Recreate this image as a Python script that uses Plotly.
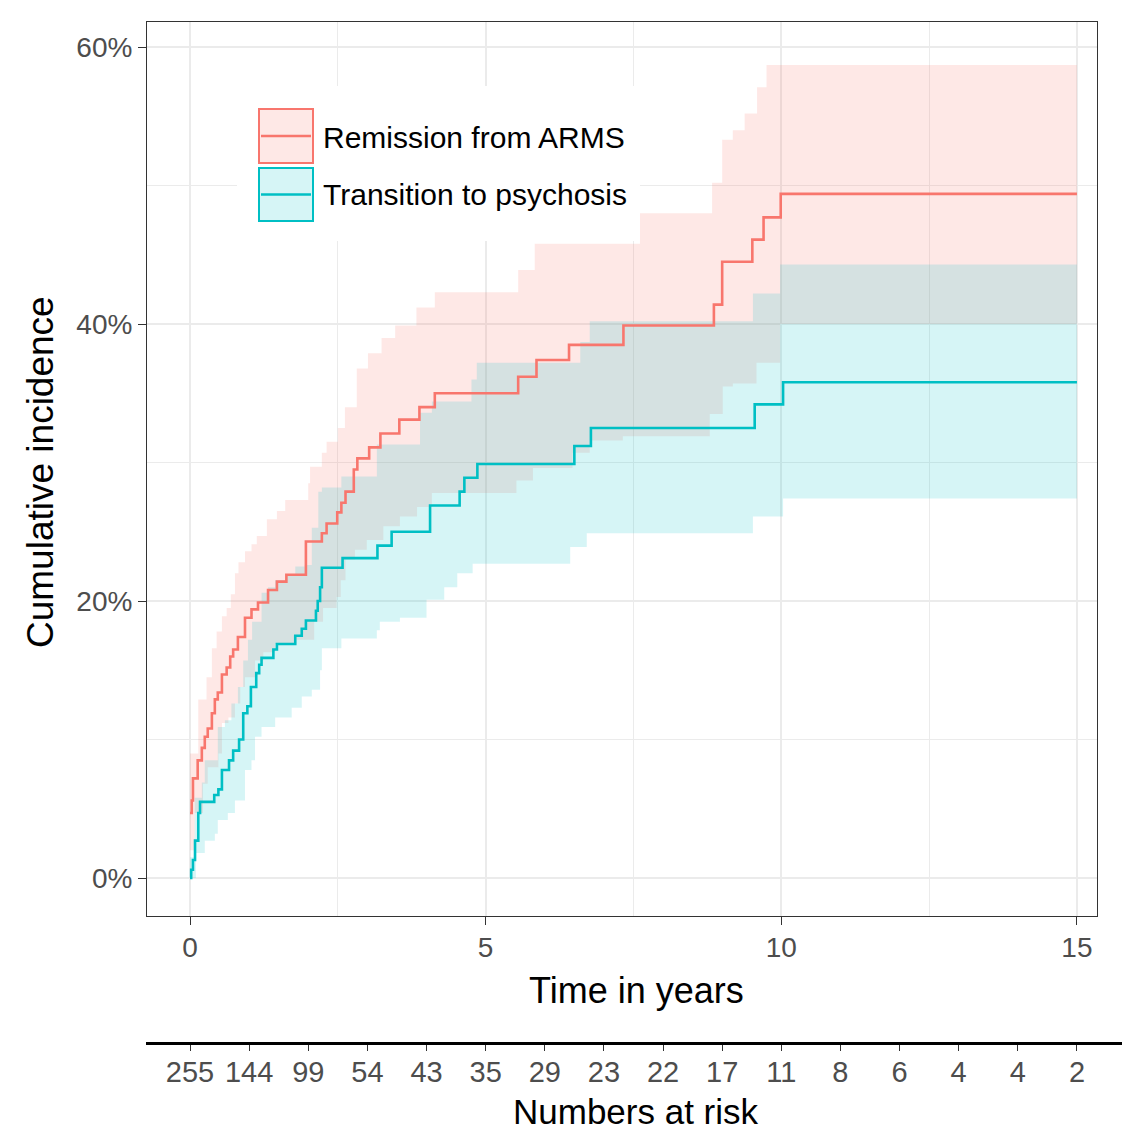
import plotly.graph_objects as go

# ---------------- data ----------------
# Remission from ARMS: cumulative incidence step curve (years, %)
REM_T = [0, 0.03, 0.05, 0.13, 0.20, 0.25, 0.30, 0.37, 0.42, 0.47, 0.54, 0.62, 0.68, 0.73, 0.81,
         0.93, 1.04, 1.15, 1.32, 1.47, 1.63, 1.96, 2.23, 2.31, 2.49, 2.56, 2.63, 2.77, 2.83, 3.03,
         3.22, 3.54, 3.88, 4.14, 5.55, 5.86, 6.41, 7.33, 8.86, 9.00, 9.51, 9.70, 9.99, 15.0]
REM_V = [4.7, 5.6, 7.2, 8.5, 9.4, 10.2, 10.8, 11.9, 12.9, 13.4, 14.7, 15.2, 16.0, 16.5, 17.4,
         18.8, 19.4, 19.9, 20.8, 21.4, 21.9, 24.3, 24.9, 25.6, 26.4, 27.1, 27.9, 29.5, 30.3, 31.1,
         32.1, 33.1, 34.0, 35.0, 36.2, 37.4, 38.5, 39.9, 41.4, 44.5, 46.1, 47.7, 49.4, 49.4]

REM_UP_T = [0, 0.14, 0.28, 0.37, 0.45, 0.54, 0.62, 0.69, 0.76, 0.82, 0.93, 1.04, 1.13, 1.30, 1.47,
            1.61, 2.00, 2.03, 2.23, 2.31, 2.50, 2.62, 2.82, 3.01, 3.24, 3.47, 3.83, 4.14, 5.55, 5.83,
            7.61, 8.83, 9.00, 9.18, 9.38, 9.59, 9.75, 15.0]
REM_UP_V = [9.0, 12.9, 14.5, 16.6, 17.8, 18.9, 19.5, 20.5, 22.0, 22.8, 23.6, 24.1, 24.7, 25.9, 26.5,
            27.3, 28.5, 29.7, 30.7, 31.5, 32.5, 34.0, 36.8, 37.9, 39.0, 39.9, 41.2, 42.3, 43.9, 45.8,
            48.0, 50.2, 53.3, 54.0, 55.2, 57.1, 58.7, 58.7]

REM_LO_T = [0, 0.08, 0.22, 0.30, 0.48, 0.54, 0.65, 0.76, 0.85, 0.93, 1.10, 1.24, 1.44, 1.80, 2.10,
            2.25, 2.48, 2.55, 2.63, 2.79, 2.99, 3.27, 3.55, 3.84, 4.09, 5.52, 5.80, 6.47, 6.76, 7.32,
            8.79, 9.01, 9.18, 9.58, 9.98, 15.0]
REM_LO_V = [2.0, 4.7, 6.8, 8.0, 9.0, 11.2, 11.6, 12.6, 13.8, 14.5, 15.7, 16.3, 16.9, 17.2, 18.5,
            19.5, 20.3, 21.5, 23.0, 23.7, 24.4, 25.4, 26.1, 26.8, 27.8, 28.7, 29.6, 30.7, 31.6, 31.9,
            33.5, 35.5, 35.7, 37.2, 40.0, 40.0]

# Transition to psychosis
TRA_T = [0, 0.02, 0.05, 0.085, 0.14, 0.17, 0.41, 0.48, 0.54, 0.66, 0.73, 0.83, 0.90, 0.97, 1.03,
         1.12, 1.17, 1.21, 1.41, 1.47, 1.78, 1.89, 1.96, 2.13, 2.16, 2.20, 2.23, 2.58, 3.17, 3.41,
         4.06, 4.56, 4.64, 4.86, 6.50, 6.78, 9.55, 10.03, 15.0]
TRA_V = [0, 0.6, 1.3, 2.7, 4.7, 5.5, 6.0, 6.4, 7.8, 8.5, 9.2, 10.0, 11.9, 12.4, 13.8,
         14.8, 15.4, 15.9, 16.5, 16.9, 17.5, 18.0, 18.6, 19.3, 20.0, 21.0, 22.4, 23.1, 24.0, 25.0,
         26.9, 27.9, 28.9, 29.9, 31.2, 32.5, 34.2, 35.8, 35.8]

TRA_UP_T = [0, 0.08, 0.20, 0.25, 0.47, 0.59, 0.70, 0.81, 0.90, 0.98, 1.05, 1.21, 1.32, 1.44, 1.61,
            1.78, 1.94, 2.06, 2.17, 2.23, 2.56, 3.16, 3.89, 4.09, 4.76, 4.85, 6.60, 6.76, 9.52, 9.98,
            15.0]
TRA_UP_V = [1.5, 5.8, 6.9, 8.5, 10.9, 11.4, 12.6, 13.8, 15.7, 17.2, 18.5, 20.6, 21.0, 21.5, 21.9,
            22.5, 22.6, 25.3, 27.9, 28.2, 29.0, 31.3, 33.6, 34.4, 36.0, 37.2, 38.7, 40.2, 42.2, 44.3,
            44.3]

TRA_LO_T = [0, 0.10, 0.25, 0.42, 0.47, 0.64, 0.76, 0.93, 1.04, 1.10, 1.21, 1.44, 1.72, 1.89, 2.06,
            2.20, 2.23, 2.56, 3.16, 3.21, 3.55, 4.00, 4.30, 4.52, 4.78, 6.43, 6.71, 9.52, 10.03, 15.0]
TRA_LO_V = [0, 1.8, 2.7, 3.2, 4.2, 4.7, 5.6, 7.8, 8.5, 10.2, 10.9, 11.6, 12.3, 13.1, 13.6,
            15.0, 16.6, 17.3, 17.9, 18.5, 18.8, 20.1, 21.0, 22.0, 22.7, 23.9, 24.9, 26.1, 27.4, 27.4]

# numbers at risk
RISK_T = list(range(16))
RISK_N = ["255", "144", "99", "54", "43", "35", "29", "23", "22", "17", "11", "8", "6", "4", "4", "2"]

X_TICKS = [0, 5, 10, 15]
Y_TICKS = [0, 0.2, 0.4, 0.6]
Y_TICK_TEXT = ["0%", "20%", "40%", "60%"]

SERIES = ["Remission from ARMS", "Transition to psychosis"]
RED = "#F8766D"
TEAL = "#00BFC4"
RED_FILL = "rgba(248,118,109,0.17)"
TEAL_FILL = "rgba(0,191,196,0.16)"
FONT = "Liberation Sans, Arial, sans-serif"


def steps(t, v):
    xs, ys = [t[0]], [v[0] / 100]
    for i in range(1, len(t)):
        xs += [t[i], t[i]]
        ys += [v[i - 1] / 100, v[i] / 100]
    return xs, ys


def band(tu, vu, tl, vl):
    ux, uy = steps(tu, vu)
    lx, ly = steps(tl, vl)
    return ux + lx[::-1], uy + ly[::-1]


fig = go.Figure()

for (tu, vu, tl, vl, fc) in [(REM_UP_T, REM_UP_V, REM_LO_T, REM_LO_V, RED_FILL),
                             (TRA_UP_T, TRA_UP_V, TRA_LO_T, TRA_LO_V, TEAL_FILL)]:
    bx, by = band(tu, vu, tl, vl)
    fig.add_trace(go.Scatter(x=bx, y=by, fill="toself", fillcolor=fc, mode="lines",
                             line=dict(width=0), hoverinfo="skip", showlegend=False))

fig.add_trace(go.Scatter(x=REM_T, y=[v / 100 for v in REM_V], mode="lines", line_shape="hv",
                         line=dict(color=RED, width=2.6), name=SERIES[0], showlegend=False))
fig.add_trace(go.Scatter(x=TRA_T, y=[v / 100 for v in TRA_V], mode="lines", line_shape="hv",
                         line=dict(color=TEAL, width=2.6), name=SERIES[1], showlegend=False))

# dummy trace for at-risk axis
fig.add_trace(go.Scatter(x=[0], y=[0.5], xaxis="x2", yaxis="y2", mode="markers",
                         marker=dict(opacity=0), hoverinfo="skip", showlegend=False))

# page has an 8px body margin: figure is laid out in reference pixels shifted by OFF
OFF = 8
W, H = 1130 - OFF, 1129
ML, MR, MT = 146 - OFF, 8, 22 - OFF
MB = H - (1042 - OFF)
PW, PH = W - ML - MR, H - MT - MB


def px(x):
    return (x - OFF - ML) / PW


def py(y):
    return (H - MB - (y - OFF)) / PH


axis_common = dict(showline=True, mirror=True, linecolor="#333333", linewidth=1,
                   ticks="outside", ticklen=8, tickwidth=1, tickcolor="#333333",
                   showgrid=True, gridcolor="#EBEBEB", gridwidth=2, zeroline=False)

fig.update_layout(
    width=W, height=H,
    margin=dict(l=ML, r=MR, t=MT, b=MB, pad=0),
    paper_bgcolor="white", plot_bgcolor="white",
    showlegend=False,
    font=dict(family=FONT),
    xaxis=dict(domain=[px(147), px(1097)], range=[-0.7272, 15.339], tickvals=X_TICKS,
               anchor="y", tickfont=dict(family=FONT, size=28, color="#4D4D4D"),
               ticklabelstandoff=-2,
               minor=dict(tickvals=[2.5, 7.5, 12.5], showgrid=True, gridcolor="#EBEBEB",
                          gridwidth=1, ticks=""),
               **axis_common),
    yaxis=dict(domain=[py(916), 1], range=[-0.0274, 0.6181], tickvals=Y_TICKS,
               ticktext=Y_TICK_TEXT, anchor="x",
               tickfont=dict(family=FONT, size=28, color="#4D4D4D"),
               minor=dict(tickvals=[0.1, 0.3, 0.5], showgrid=True, gridcolor="#EBEBEB",
                          gridwidth=1, ticks=""),
               **axis_common),
    xaxis2=dict(domain=[0, 1], anchor="y2", range=[-0.7441, 15.762], tickvals=RISK_T,
                ticktext=RISK_N, showline=True, linecolor="black", linewidth=2.5,
                ticks="outside", ticklen=6, tickwidth=1, tickcolor="#333333",
                tickfont=dict(family=FONT, size=29, color="#4D4D4D"),
                ticklabelstandoff=-4,
                showgrid=False, zeroline=False),
    yaxis2=dict(domain=[0, 0.002], range=[0, 1], visible=False, anchor="x2"),
)

annotations = [
    dict(text="Time in years", x=px(636), y=py(990), xref="paper", yref="paper",
         xanchor="center", yanchor="middle", showarrow=False,
         font=dict(family=FONT, size=36, color="black")),
    dict(text="Cumulative incidence", x=px(40), y=py(472), xref="paper", yref="paper",
         xanchor="center", yanchor="middle", showarrow=False, textangle=-90,
         font=dict(family=FONT, size=37, color="black")),
    dict(text="Numbers at risk", x=px(636), y=py(1111), xref="paper", yref="paper",
         xanchor="center", yanchor="middle", showarrow=False,
         font=dict(family=FONT, size=35, color="black")),
    dict(text=SERIES[0], x=px(321), y=py(137), xref="paper", yref="paper",
         xanchor="left", yanchor="middle", showarrow=False,
         font=dict(family=FONT, size=30, color="black")),
    dict(text=SERIES[1], x=px(321), y=py(195), xref="paper", yref="paper",
         xanchor="left", yanchor="middle", showarrow=False,
         font=dict(family=FONT, size=30, color="black")),
]
fig.update_layout(annotations=annotations)

shapes = [
    # legend background
    dict(type="rect", xref="paper", yref="paper", x0=px(237), x1=px(640), y0=py(241), y1=py(86),
         fillcolor="white", line=dict(width=0), layer="above"),
    # key 1
    dict(type="rect", xref="paper", yref="paper", x0=px(259), x1=px(313), y0=py(163), y1=py(109),
         fillcolor=RED_FILL, line=dict(color=RED, width=2), layer="above"),
    dict(type="line", xref="paper", yref="paper", x0=px(261), x1=px(311), y0=py(136), y1=py(136),
         line=dict(color=RED, width=2.6), layer="above"),
    # key 2
    dict(type="rect", xref="paper", yref="paper", x0=px(259), x1=px(313), y0=py(221), y1=py(168),
         fillcolor=TEAL_FILL, line=dict(color=TEAL, width=2), layer="above"),
    dict(type="line", xref="paper", yref="paper", x0=px(261), x1=px(311), y0=py(194.5),
         y1=py(194.5), line=dict(color=TEAL, width=2.6), layer="above"),
]
fig.update_layout(shapes=shapes)

fig.write_html("out.html")
